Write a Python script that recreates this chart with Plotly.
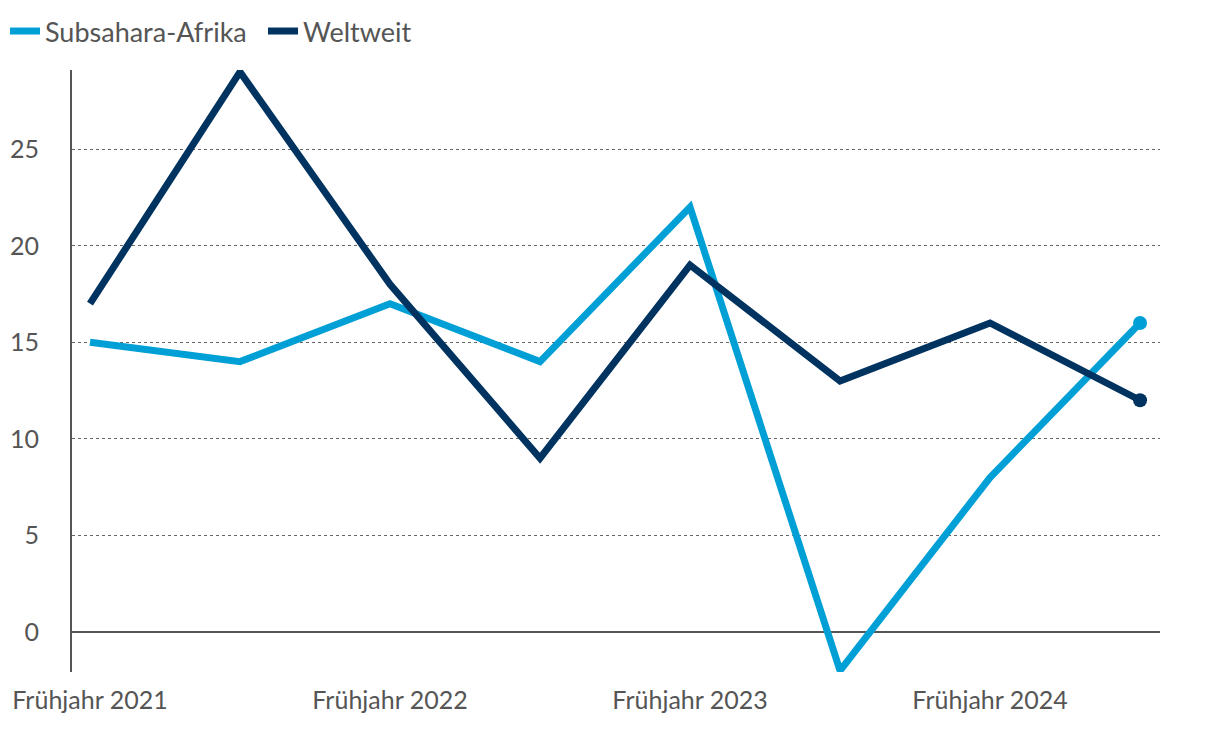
import plotly.graph_objects as go

periods = ["Frühjahr 2021", "Herbst 2021", "Frühjahr 2022", "Herbst 2022",
           "Frühjahr 2023", "Herbst 2023", "Frühjahr 2024", "Herbst 2024"]
subsahara = [15, 14, 17, 14, 22, -2, 8, 16]
weltweit = [17, 29, 18, 9, 19, 13, 16, 12]
tick_idx = [0, 2, 4, 6]
y_ticks = [0, 5, 10, 15, 20, 25]

LIGHT = '#00a0d6'
DARK = '#00335f'
GREY = '#555555'
FONT = 'Lato'

x = list(range(len(periods)))

fig = go.Figure()
for name, vals, color in [('Subsahara-Afrika', subsahara, LIGHT), ('Weltweit', weltweit, DARK)]:
    fig.add_trace(go.Scatter(
        x=x, y=vals, mode='lines', name=name,
        line=dict(color=color, width=7),
        hovertext=periods
    ))
    # end point marker
    fig.add_trace(go.Scatter(
        x=x[-1:], y=vals[-1:], mode='markers', showlegend=False,
        marker=dict(color=color, size=14)
    ))

# page body has an 8px margin, so the margins are shifted to compensate
fig.update_layout(
    width=1220, height=730,
    margin=dict(l=64, r=68, t=62, b=66, autoexpand=False),
    paper_bgcolor='white',
    plot_bgcolor='white',
    font=dict(family=FONT, size=25, color=GREY),
    showlegend=True,
    legend=dict(orientation='h', x=-0.0616, xanchor='left', y=1.064, yanchor='middle',
                font=dict(size=27, color=GREY), itemwidth=30, tracegroupgap=0,
                entrywidth=213, entrywidthmode='pixels'),
    xaxis=dict(
        range=[-0.12, 7.133],
        tickvals=[x[i] for i in tick_idx],
        ticktext=[periods[i] for i in tick_idx],
        showgrid=False, zeroline=False, showline=False,
        ticks='outside', ticklen=6, tickcolor='rgba(0,0,0,0)',
        automargin=False,
    ),
    yaxis=dict(
        range=[-2.07, 29.1],
        tickvals=y_ticks,
        showgrid=True, gridcolor='#666666', griddash='dot', gridwidth=1,
        zeroline=True, zerolinecolor=GREY, zerolinewidth=2,
        showline=True, linecolor=GREY, linewidth=2,
        ticks='outside', ticklen=26, tickcolor='rgba(0,0,0,0)',
        automargin=False,
    ),
)

fig.write_html("out.html")
